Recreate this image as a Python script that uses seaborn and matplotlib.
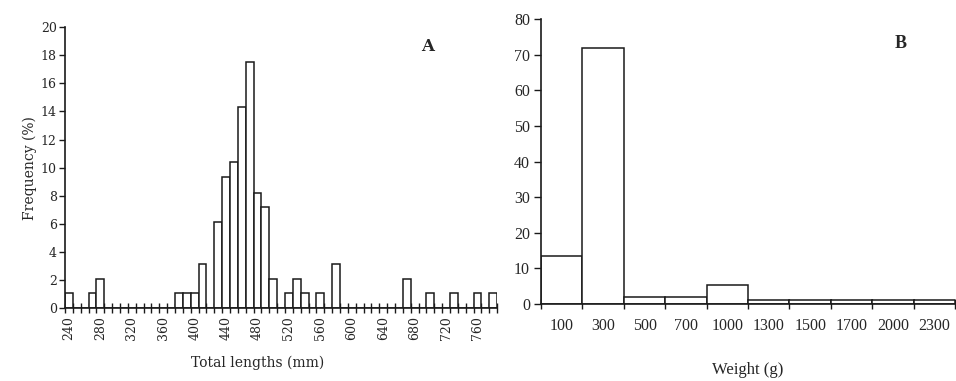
import numpy as np
import pandas as pd
import matplotlib
matplotlib.use("Agg")
import matplotlib.pyplot as plt
import seaborn as sns

sns.set_style("white")

# Panel A: total length classes (mm) and frequency (%)
length_classes = [str(v) for v in range(240, 790, 10)]
length_freq = [1.1, 0, 0, 1.1, 2.1,
               0, 0, 0, 0, 0, 0, 0, 0, 0,
               1.1, 1.1, 1.1, 3.1, 0, 6.1, 9.3, 10.4, 14.3, 17.5, 8.2, 7.2, 2.1,
               0, 1.1, 2.1, 1.1, 0, 1.1, 0, 3.1,
               0, 0, 0, 0, 0, 0, 0, 0,
               2.1, 0, 0, 1.1, 0, 0, 1.1, 0, 0, 1.1, 0, 1.1]
length_yticks = list(range(0, 21, 2))

# Panel B: weight classes (g) and frequency (%)
weight_classes = ["100", "300", "500", "700", "1000", "1300", "1500", "1700", "2000", "2300"]
weight_freq = [13.5, 72, 2.0, 2.0, 5.3, 1.1, 1.1, 1.1, 1.1, 1.1]
weight_yticks = list(range(0, 81, 10))

edge = "#1a1a1a"

fig = plt.figure(figsize=(9.56, 3.81), dpi=100)
fig.patch.set_facecolor("white")

# ---------------- Panel A ----------------
axA = fig.add_axes([0.068, 0.1916, 0.452, 0.737])
dfA = pd.DataFrame({"cls": length_classes, "freq": length_freq})
sns.barplot(data=dfA, x="cls", y="freq", ax=axA, color="white", saturation=1,
            edgecolor=edge, linewidth=1.1, width=1.0, order=length_classes)
nA = len(length_classes)
axA.set_xlim(-0.5, nA - 0.5)
axA.set_ylim(0, 20)
axA.set_yticks(length_yticks)
axA.set_xticks(range(0, nA, 4))
axA.set_xticklabels(length_classes[::4], rotation=90, family="DejaVu Serif", fontsize=9)
axA.set_xticks(np.arange(-0.5, nA, 1), minor=True)
axA.tick_params(axis="x", which="major", bottom=True, length=0, pad=6)
axA.tick_params(axis="x", which="minor", bottom=True, length=7, direction="inout", width=1, color=edge)
axA.tick_params(axis="y", which="major", left=True, length=4, direction="out", width=1, color=edge, pad=2)
for lab in axA.get_yticklabels():
    lab.set_family("DejaVu Serif")
    lab.set_fontsize(9)
axA.set_xlabel("Total lengths (mm)", family="DejaVu Serif", fontsize=10)
axA.xaxis.set_label_coords(0.445, -0.17)
axA.set_ylabel("Frequency (%)", family="DejaVu Serif", fontsize=10, labelpad=3)
for s in ["top", "right"]:
    axA.spines[s].set_visible(False)
for s in ["left", "bottom"]:
    axA.spines[s].set_color(edge)
    axA.spines[s].set_linewidth(1.2)
axA.text(0.84, 0.93, "A", transform=axA.transAxes, family="DejaVu Serif",
         fontsize=12, fontweight="bold", ha="center", va="center")

# ---------------- Panel B ----------------
axB = fig.add_axes([0.566, 0.202, 0.433, 0.748])
dfB = pd.DataFrame({"cls": weight_classes, "freq": weight_freq})
sns.barplot(data=dfB, x="cls", y="freq", ax=axB, color="white", saturation=1,
            edgecolor=edge, linewidth=1.1, width=1.0, order=weight_classes)
nB = len(weight_classes)
axB.set_xlim(-0.5, nB - 0.5)
axB.set_ylim(0, 80)
axB.set_yticks(weight_yticks)
axB.set_xticks(range(nB))
axB.set_xticklabels(weight_classes, family="Liberation Serif", fontsize=11.5)
axB.set_xticks(np.arange(-0.5, nB, 1), minor=True)
axB.tick_params(axis="x", which="major", bottom=True, length=0, pad=10)
axB.tick_params(axis="x", which="minor", bottom=True, length=7, direction="inout", width=1, color=edge)
axB.tick_params(axis="y", which="major", left=True, length=5, direction="out", width=1, color=edge, pad=3)
for lab in axB.get_yticklabels():
    lab.set_family("Liberation Serif")
    lab.set_fontsize(11.5)
axB.set_xlabel("Weight (g)", family="Liberation Serif", fontsize=12, labelpad=20)
axB.set_ylabel("")
for s in ["top", "right"]:
    axB.spines[s].set_visible(False)
for s in ["left", "bottom"]:
    axB.spines[s].set_color(edge)
    axB.spines[s].set_linewidth(1.2)
axB.text(0.868, 0.915, "B", transform=axB.transAxes, family="Liberation Serif",
         fontsize=13, fontweight="bold", ha="center", va="center")

fig.savefig("out.png", dpi=100, facecolor="white")
